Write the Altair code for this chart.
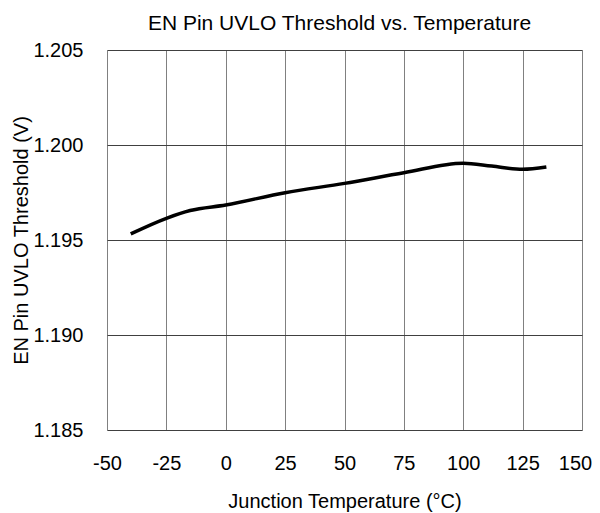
import altair as alt
import pandas as pd

temps = [-40, -25, -15, 0, 25, 50, 75, 100, 112, 125, 135]
thresholds = [1.19532, 1.19614, 1.19655, 1.19684, 1.19749, 1.19798, 1.19854, 1.19904, 1.19889, 1.19872, 1.19884]
x_ticks = [-50, -25, 0, 25, 50, 75, 100, 125, 150]
y_ticks = [1.185, 1.190, 1.195, 1.200, 1.205]

df = pd.DataFrame({"temp": temps, "vth": thresholds})

FONT = "Liberation Sans"

chart = alt.Chart(df).mark_line(
    color="black", strokeWidth=3.5, interpolate="monotone"
).encode(
    x=alt.X("temp:Q",
            scale=alt.Scale(domain=[-50, 150], nice=False, zero=False),
            axis=alt.Axis(values=x_ticks, labelExpr="'' + datum.value",
                          title="Junction Temperature (°C)",
                          grid=True, gridColor="#808080", gridWidth=1,
                          domain=False, ticks=False, tickSize=0,
                          labelFlush=False, labelOverlap=False,
                          labelOffset={"condition": {"test": "datum.value >= 150", "value": -7}, "value": 0},
                          labelFont=FONT, labelFontSize=20, labelColor="black",
                          labelBaseline="alphabetic", labelPadding=39,
                          titleFont=FONT, titleFontSize=20, titleFontWeight="normal",
                          titleColor="black", titleBaseline="alphabetic", titleY=77)),
    y=alt.Y("vth:Q",
            scale=alt.Scale(domain=[1.185, 1.205], nice=False, zero=False),
            axis=alt.Axis(values=y_ticks, format=".3f", title="EN Pin UVLO Threshold (V)",
                          grid=True, gridColor="#404040", gridWidth=1,
                          domain=False, ticks=False, tickSize=0,
                          labelFlush=False, labelOverlap=False,
                          labelFont=FONT, labelFontSize=20, labelColor="black",
                          labelPadding=24,
                          titleFont=FONT, titleFontSize=20, titleFontWeight="normal",
                          titleColor="black", titleBaseline="alphabetic",
                          titleX=-80, titleY=190, titleAngle=270, titleAlign="center")),
).properties(
    width=475,
    height=380,
    title=alt.TitleParams("EN Pin UVLO Threshold vs. Temperature", font=FONT, fontSize=21,
                          fontWeight="normal", color="black", anchor="middle",
                          frame="group", baseline="bottom", offset=14, dx=-5, dy=29),
    autosize=alt.AutoSizeParams(type="none"),
    padding={"left": 99, "top": 42, "right": 10, "bottom": 83},
).configure_view(
    stroke="black", strokeWidth=2
).configure(background="white")

chart.save("out.html", embed_options={"renderer": "svg", "actions": False})
